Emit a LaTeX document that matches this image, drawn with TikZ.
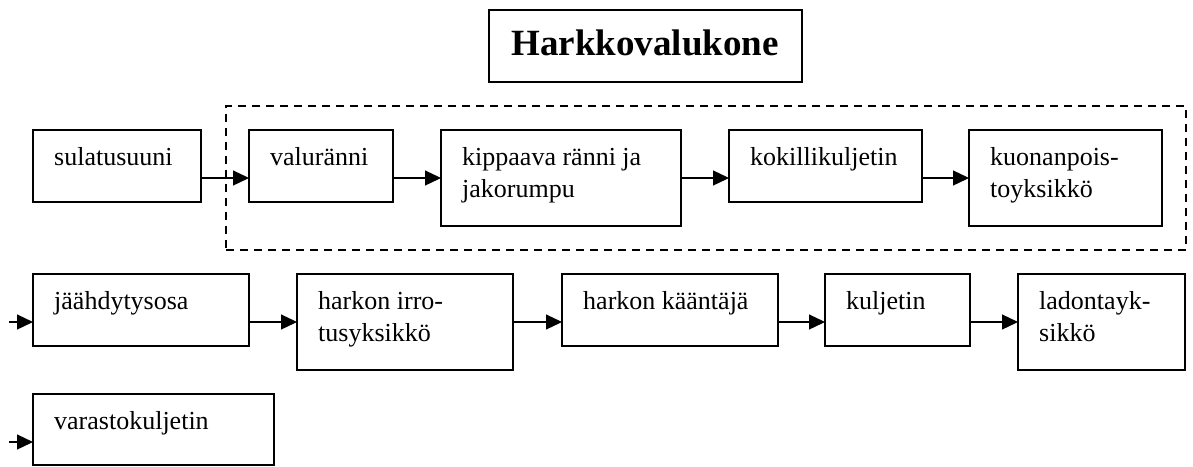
\documentclass[tikz,border=0pt]{standalone}
\usepackage{fontspec}
\setmainfont{Liberation Serif}
\usetikzlibrary{arrows.meta}

% first baseline of a label sits on the node's base anchor
\newcommand\boxtext[1]{\parbox[t]{260pt}{\raggedright #1}}

\tikzset{
  unit/.style={draw, line width=1.2pt, rectangle, inner sep=0pt, outer sep=0pt, anchor=north west},
  unitlabel/.style={anchor=base west, inner sep=0pt, font=\fontsize{26}{32}\selectfont},
  group/.style={draw, line width=1.2pt, dash pattern=on 8pt off 6pt, rectangle, inner sep=0pt, outer sep=0pt, anchor=north west},
  flow/.style={line width=1.2pt, -{Triangle[length=16pt,width=15pt]}},
  heading/.style={draw, line width=1.2pt, rectangle, inner sep=0pt, outer sep=0pt, anchor=north west}
}

\newcommand\unitbox[6]{% name, x, y, width, height, text
  \node[unit, minimum width=#4pt, minimum height=#5pt] (#1) at (#2,#3) {};
  \node[unitlabel] (#1-t) at ([xshift=21pt,yshift=-35pt]#1.north west) {\boxtext{#6}};
}

\begin{document}
\begin{tikzpicture}[x=1pt,y=-1pt]
  \useasboundingbox (0,0) rectangle (1193,466);

  % heading
  \node[heading, minimum width=313pt, minimum height=72pt] (title) at (489,10) {};
  \node[anchor=base, inner sep=0pt, font=\fontsize{37}{40}\selectfont\bfseries] (title-t) at (645,55) {Harkkovalukone};

  % casting machine group
  \node[group, minimum width=960pt, minimum height=144pt] (machine) at (226,106) {};

  % levels of the arrows in each row
  \coordinate (r1) at (0,178);
  \coordinate (r2) at (0,322);
  \coordinate (r3) at (0,442);
  \coordinate (in2) at (9,322);
  \coordinate (in3) at (9,442);

  % first row
  \unitbox{sul}{33}{130}{168}{72}{sulatusuuni}
  \unitbox{val}{249}{130}{144}{72}{valuränni}
  \unitbox{kip}{441}{130}{240}{96}{kippaava ränni ja\\jakorumpu}
  \unitbox{kok}{729}{130}{193}{72}{kokillikuljetin}
  \unitbox{kuo}{969}{130}{193}{96}{kuonanpois-\\toyksikkö}

  % second row
  \unitbox{jaa}{33}{274}{216}{72}{jäähdytysosa}
  \unitbox{irr}{297}{274}{216}{96}{harkon irro-\\tusyksikkö}
  \unitbox{kaa}{562}{274}{216}{72}{harkon kääntäjä}
  \unitbox{kul}{825}{274}{145}{72}{kuljetin}
  \unitbox{lad}{1018}{274}{167}{96}{ladontayk-\\sikkö}

  % third row
  \unitbox{var}{33}{394}{241}{71}{varastokuljetin}

  % connectors
  \draw[flow] (sul.east |- r1) -- (val.west |- r1);
  \draw[flow] (val.east |- r1) -- (kip.west |- r1);
  \draw[flow] (kip.east |- r1) -- (kok.west |- r1);
  \draw[flow] (kok.east |- r1) -- (kuo.west |- r1);

  \draw[flow] (in2) -- (jaa.west |- r2);
  \draw[flow] (jaa.east |- r2) -- (irr.west |- r2);
  \draw[flow] (irr.east |- r2) -- (kaa.west |- r2);
  \draw[flow] (kaa.east |- r2) -- (kul.west |- r2);
  \draw[flow] (kul.east |- r2) -- (lad.west |- r2);

  \draw[flow] (in3) -- (var.west |- r3);
\end{tikzpicture}
\end{document}
